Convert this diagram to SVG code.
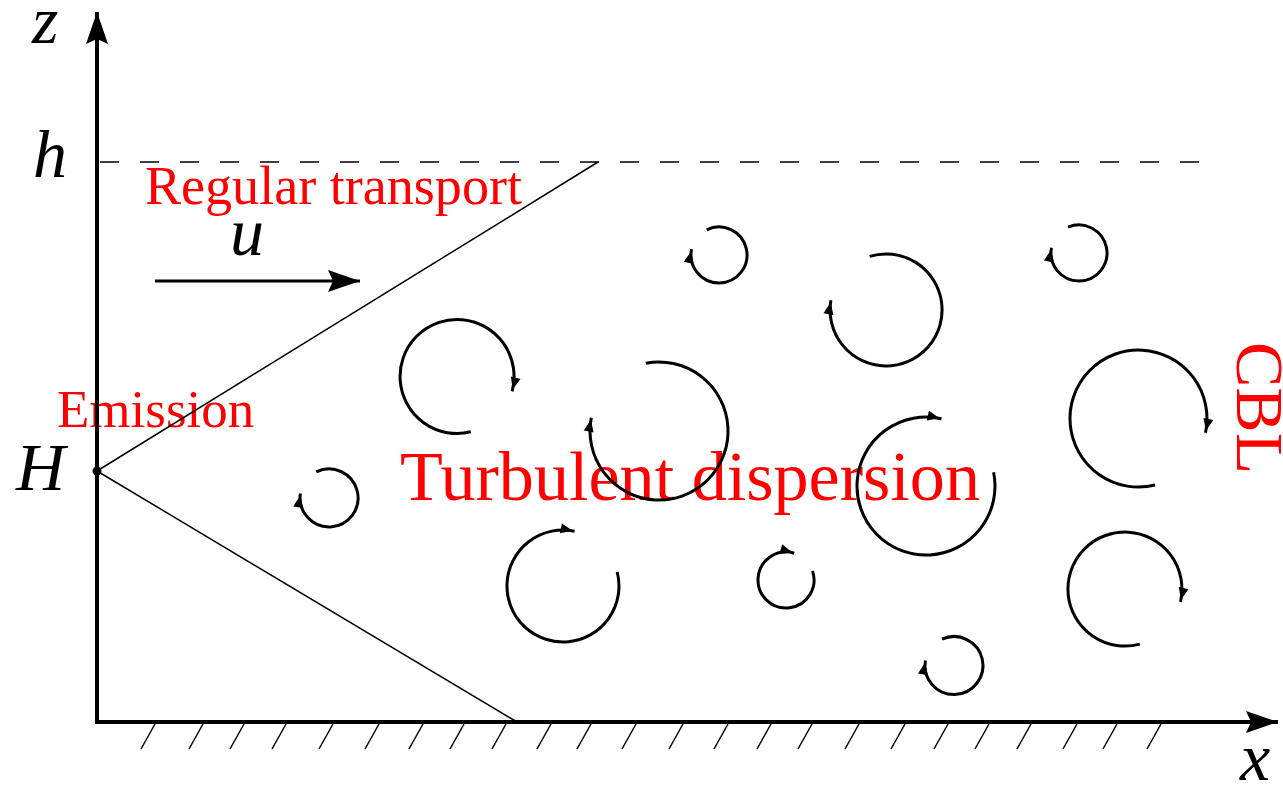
<svg xmlns="http://www.w3.org/2000/svg" width="1283" height="785" viewBox="0 0 1283 785">
<style>
.red{fill:#ff0000;font-family:"Liberation Serif","Times New Roman",serif}
.it{fill:#000;font-family:"Liberation Serif","Times New Roman",serif;font-style:italic;font-size:68px}
.vortex{fill:none;stroke:#000;stroke-width:3;marker-end:url(#ah)}
.thin{stroke:#000;stroke-width:1.5;fill:none}
.hatch{stroke:#000;stroke-width:1.5}
.axis{stroke:#000;stroke-width:4;fill:none}
</style>
<defs>
<marker id="ah" markerUnits="userSpaceOnUse" markerWidth="16" markerHeight="12" refX="14" refY="5" orient="auto" overflow="visible">
<path d="M0,0 L12,5 L0,10 z" fill="#000"/>
</marker>
<marker id="axh" markerUnits="userSpaceOnUse" markerWidth="40" markerHeight="30" refX="32" refY="11" orient="auto" overflow="visible">
<path d="M0,0 L32,11 L0,22 L5,11 z" fill="#000"/>
</marker>
</defs>
<rect width="1283" height="785" fill="#fff"/>
<g id="labels">
<text class="red" x="145" y="204" font-size="54" textLength="377" lengthAdjust="spacingAndGlyphs">Regular transport</text>
<text class="red" x="57" y="427" font-size="53">Emission</text>
<text class="red" x="400" y="500" font-size="70" textLength="580" lengthAdjust="spacingAndGlyphs">Turbulent dispersion</text>
<text class="red" font-size="68" transform="translate(1237,342) rotate(90)">CBL</text>
<text class="it" x="32" y="43">z</text>
<text class="it" x="33" y="177">h</text>
<text class="it" x="16" y="490">H</text>
<text class="it" x="230" y="255">u</text>
<text class="it" x="1240" y="780">x</text>
</g>
<g id="connectors">
<line class="axis" x1="97" y1="724" x2="97" y2="12" marker-end="url(#axh)"/>
<line class="axis" x1="95" y1="722" x2="1278" y2="722" marker-end="url(#axh)"/>
<line x1="100" y1="162" x2="1200" y2="162" stroke="#000" stroke-width="1.5" stroke-dasharray="19 21"/>
<line class="thin" x1="97" y1="471" x2="598" y2="162"/>
<line class="thin" x1="97" y1="471" x2="517" y2="722"/>
<line x1="155" y1="281" x2="360" y2="281" stroke="#000" stroke-width="3" marker-end="url(#axh)"/>
<g id="hatching">
<line class="hatch" x1="141" y1="749" x2="155" y2="724"/>
<line class="hatch" x1="189" y1="749" x2="203" y2="724"/>
<line class="hatch" x1="230" y1="749" x2="244" y2="724"/>
<line class="hatch" x1="272" y1="749" x2="286" y2="724"/>
<line class="hatch" x1="319" y1="749" x2="333" y2="724"/>
<line class="hatch" x1="365" y1="749" x2="379" y2="724"/>
<line class="hatch" x1="409" y1="749" x2="423" y2="724"/>
<line class="hatch" x1="450" y1="749" x2="464" y2="724"/>
<line class="hatch" x1="492" y1="749" x2="506" y2="724"/>
<line class="hatch" x1="537" y1="749" x2="551" y2="724"/>
<line class="hatch" x1="577" y1="749" x2="591" y2="724"/>
<line class="hatch" x1="622" y1="749" x2="636" y2="724"/>
<line class="hatch" x1="669" y1="749" x2="683" y2="724"/>
<line class="hatch" x1="714" y1="749" x2="728" y2="724"/>
<line class="hatch" x1="757" y1="749" x2="771" y2="724"/>
<line class="hatch" x1="798" y1="749" x2="812" y2="724"/>
<line class="hatch" x1="845" y1="749" x2="859" y2="724"/>
<line class="hatch" x1="891" y1="749" x2="905" y2="724"/>
<line class="hatch" x1="934" y1="749" x2="948" y2="724"/>
<line class="hatch" x1="975" y1="749" x2="989" y2="724"/>
<line class="hatch" x1="1017" y1="749" x2="1031" y2="724"/>
<line class="hatch" x1="1063" y1="749" x2="1077" y2="724"/>
<line class="hatch" x1="1103" y1="749" x2="1117" y2="724"/>
<line class="hatch" x1="1147" y1="749" x2="1161" y2="724"/>
</g>
</g>
<g id="emission-point"><circle cx="97" cy="471" r="4.5" fill="#000"/></g>
<g id="vortices">
<path id="vA" class="vortex" d="M470.8,431.8 A57,57 0 1 1 512.1,391.3"/>
<path id="vB" class="vortex" d="M645.8,363.3 A69,69 0 1 1 591.3,417.8"/>
<path id="vC" class="vortex" d="M869.6,256.4 A56,56 0 1 1 830.9,300.3"/>
<path id="vD" class="vortex" d="M706.7,229.8 A28,28 0 1 1 691.6,249.2"/>
<path id="vE" class="vortex" d="M1068.1,227.2 A28,28 0 1 1 1051.5,247.7"/>
<path id="vF" class="vortex" d="M1155.1,485 A68.5,68.5 0 1 1 1205.5,432.7"/>
<path id="vG" class="vortex" d="M1139.8,644.1 A57,57 0 1 1 1180.5,601.8"/>
<path id="vH" class="vortex" d="M316.3,471.9 A29,29 0 1 1 300.4,493.5"/>
<path id="vI" class="vortex" d="M617.2,572 A56,56 0 1 1 574.6,531.2"/>
<path id="vJ" class="vortex" d="M993.6,472.2 A69,69 0 1 1 941.5,418.8"/>
<path id="vK" class="vortex" d="M812.5,570.9 A28,28 0 1 1 794.2,553.2"/>
<path id="vL" class="vortex" d="M942,639.1 A29,29 0 1 1 925.4,660.5"/>
</g>
</svg>
